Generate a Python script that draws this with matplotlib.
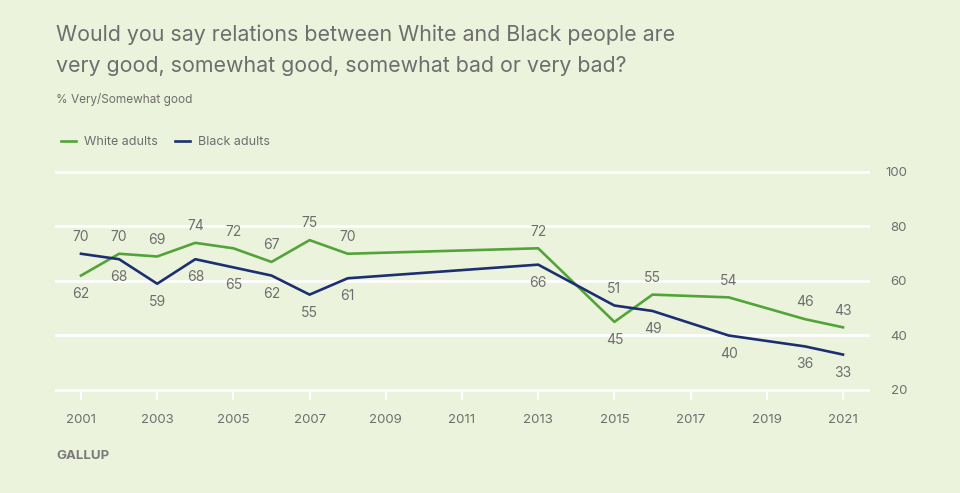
import matplotlib.pyplot as plt

years_white = [2001, 2002, 2003, 2004, 2005, 2006, 2007, 2008, 2013, 2015, 2016, 2018, 2020, 2021]
white = [62, 70, 69, 74, 72, 67, 75, 70, 72, 45, 55, 54, 46, 43]
years_black = [2001, 2002, 2003, 2004, 2005, 2006, 2007, 2008, 2013, 2015, 2016, 2018, 2020, 2021]
black = [70, 68, 59, 68, 65, 62, 55, 61, 66, 51, 49, 40, 36, 33]
x_ticks = [2001, 2003, 2005, 2007, 2009, 2011, 2013, 2015, 2017, 2019, 2021]
y_ticks = [20, 40, 60, 80, 100]

BG = '#ecf3dc'
GREEN = '#52a43a'
NAVY = '#1b2f72'
TEXT = '#6e6e6e'

plt.rcParams['font.family'] = ['Inter', 'DejaVu Sans']

fig = plt.figure(figsize=(9.6, 4.93), dpi=100, facecolor=BG)
ax = fig.add_axes([56 / 960, 103 / 493, 812 / 960, 218 / 493])
ax.set_facecolor(BG)

for y in y_ticks:
    ax.axhline(y, color='white', lw=2, zorder=1, clip_on=False)

ax.plot(years_white, white, color=GREEN, lw=1.9, zorder=3, label='White adults')
ax.plot(years_black, black, color=NAVY, lw=1.9, zorder=3, label='Black adults')

# value labels: higher value above, lower below
for yr, w, b in zip(years_white, white, black):
    hi, lo = (w, b) if w >= b else (b, w)
    ax.annotate(str(hi), (yr, hi), xytext=(0, 12), textcoords='offset points',
                ha='center', va='center', fontsize=10, color=TEXT)
    ax.annotate(str(lo), (yr, lo), xytext=(0, -13), textcoords='offset points',
                ha='center', va='center', fontsize=10, color=TEXT)

ax.set_xlim(2000.344, 2021.656)
ax.set_ylim(20, 100)
ax.set_xticks(x_ticks)
ax.set_yticks(y_ticks)
ax.yaxis.tick_right()
ax.tick_params(axis='x', direction='out', length=7, width=1.5, color='white',
               labelsize=9.5, labelcolor=TEXT, pad=10)
ax.tick_params(axis='y', length=0, labelsize=9.5, labelcolor=TEXT, pad=28)
for lbl in ax.get_yticklabels():
    lbl.set_ha('right')
for s in ax.spines.values():
    s.set_visible(False)

fig.text(56 / 960, 1 - 35 / 493, 'Would you say relations between White and Black people are',
         fontsize=15.4, color=TEXT, va='center')
fig.text(56 / 960, 1 - 66 / 493, 'very good, somewhat good, somewhat bad or very bad?',
         fontsize=15.4, color=TEXT, va='center')
fig.text(56 / 960, 1 - 99 / 493, '% Very/Somewhat good', fontsize=8.5, color=TEXT, va='center')

fig.legend(loc='center left', bbox_to_anchor=(50 / 960, 1 - 142 / 493), ncol=2,
           frameon=False, handlelength=1.2, handletextpad=0.6, columnspacing=1.4,
           fontsize=9, labelcolor=TEXT)

fig.text(56 / 960, 1 - 456 / 493, 'GALLUP', fontsize=9.5, fontweight='bold', color='#7a7a7a',
         va='center')

fig.savefig('out.png', dpi=100, facecolor=BG)
